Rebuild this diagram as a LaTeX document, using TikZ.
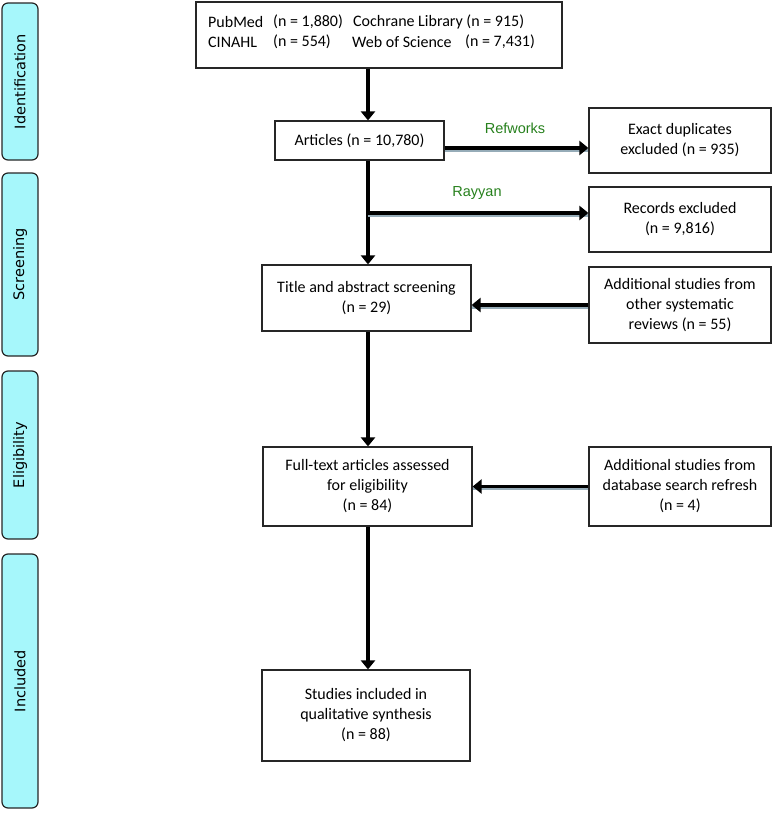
\documentclass[tikz,border=0pt]{standalone}
\usepackage{fontspec}
\setmainfont{Carlito}
\newfontfamily\phasefont{DejaVu Sans}
\newfontfamily\toolfont{Liberation Sans}
\usetikzlibrary{arrows.meta}
\definecolor{phasecyan}{RGB}{166,247,251}
\definecolor{toolgreen}{RGB}{38,128,28}
\definecolor{shadowblue}{RGB}{150,172,184}
\tikzset{
  box/.style={draw=black!85, line width=1.2pt, fill=white, align=center, inner sep=0pt,
    font=\fontsize{16}{20}\selectfont},
  phase/.style={draw=black!85, line width=1.2pt, fill=phasecyan, rounded corners=6pt,
    inner sep=0pt, minimum height=36pt, font=\phasefont\fontsize{14.5}{16}\selectfont},
  src/.style={anchor=west, inner sep=0pt, font=\fontsize{16}{20}\selectfont},
  flow/.style={line width=3.2pt, -{Triangle[length=9pt,width=14pt]}},
  sideflow/.style={flow, preaction={draw=shadowblue, line width=3pt, -, transform canvas={yshift=-2pt}}},
  tool/.style={font=\toolfont\fontsize{14.5}{16}\selectfont, text=toolgreen}
}
\begin{document}
\begin{tikzpicture}[x=1pt,y=-1pt]
\useasboundingbox (0,0) rectangle (772,814);
\def\stage#1#2#3#4{
\node [phase, rotate=90, minimum width={#3-#2}] (#1) at (20,{(#2+#3)/2}) {#4};
}
\def\bx#1#2#3#4#5#6{
\node [box, minimum width=#4, minimum height=#5] (#1) at (#2,#3) {#6};
}
\stage{identification}{3}{160}{Identification}
\stage{screening}{173}{356}{Screening}
\stage{eligibility}{371}{539}{Eligibility}
\stage{included}{554}{808}{Included}
\bx{sources}{379}{35}{366}{66}{}
\bx{articles}{359.5}{140.5}{169}{39}{Articles (n = 10,780)}
\bx{duplicates}{680}{140.5}{182}{65}{Exact duplicates\\excluded (n = 935)}
\bx{records}{680}{219.5}{182}{65}{Records excluded\\(n = 9,816)}
\bx{titleabs}{366.5}{298}{209}{66}{Title and abstract screening\\(n = 29)}
\bx{reviews}{680}{305}{182}{76}{Additional studies from\\other systematic\\reviews (n = 55)}
\bx{fulltext}{367.5}{486.5}{209}{79}{Full-text articles assessed\\for eligibility\\(n = 84)}
\bx{refresh}{680}{486.5}{182}{79}{Additional studies from\\database search refresh\\(n = 4)}
\bx{synthesis}{366}{715.5}{208}{91}{Studies included in\\qualitative synthesis\\(n = 88)}
\node [src] (pubmed) at (208,22) {PubMed};
\node [src] (pubmedn) at (273,22) {(n = 1,880)};
\node [src] (cochrane) at (353,22) {Cochrane Library (n = 915)};
\node [src] (cinahl) at (208,42) {CINAHL};
\node [src] (cinahln) at (273,42) {(n = 554)};
\node [src] (wos) at (352,42) {Web of Science};
\node [src] (wosn) at (465,42) {(n = 7,431)};
\coordinate (spine) at (368,0);
\coordinate (rayyan) at (368,213);
\draw [flow] (sources.south -| spine) -- (articles.north -| spine);
\draw [flow] (articles.south -| spine) -- (titleabs.north -| spine);
\draw [flow] (titleabs.south -| spine) -- (fulltext.north -| spine);
\draw [flow] (fulltext.south -| spine) -- (synthesis.north -| spine);
\draw [sideflow] ([yshift=-7.5pt]articles.east) -- ([yshift=-7.5pt]articles.east -| duplicates.west);
\draw [sideflow] (rayyan) -- (rayyan -| records.west);
\draw [sideflow] (reviews.west) -- (reviews.west -| titleabs.east);
\draw [sideflow] (refresh.west) -- (refresh.west -| fulltext.east);
\node [tool] (refworks) at (515,128) {Refworks};
\node [tool] (rayyanlbl) at (477,193) {Rayyan};
\end{tikzpicture}
\end{document}
